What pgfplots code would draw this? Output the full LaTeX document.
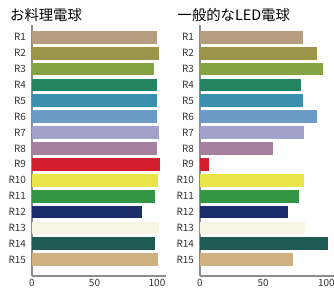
\documentclass[border=0pt]{standalone}
\usepackage{pgfplots}
\pgfplotsset{compat=1.18}
\usepackage{fontspec}
\setmainfont{Noto Sans CJK JP}
\definecolor{cA}{HTML}{B59E80}
\definecolor{cB}{HTML}{9C9449}
\definecolor{cC}{HTML}{86A344}
\definecolor{cD}{HTML}{238562}
\definecolor{cE}{HTML}{3A90AD}
\definecolor{cF}{HTML}{6C9BC6}
\definecolor{cG}{HTML}{A0A2CA}
\definecolor{cH}{HTML}{A67E9E}
\definecolor{cI}{HTML}{D41E30}
\definecolor{cJ}{HTML}{E7E549}
\definecolor{cK}{HTML}{339644}
\definecolor{cL}{HTML}{1B2D6A}
\definecolor{cM}{HTML}{F9F3E4}
\definecolor{cN}{HTML}{1E5B52}
\definecolor{cO}{HTML}{CFB080}
\pgfplotsset{mybars/.style={
  xbar, bar shift=0pt, bar width=12.7bp,
  scale only axis, height=251bp,
  xmin=0, ymin=0.226, ymax=16.026, y dir=reverse,
  axis x line*=bottom, axis y line*=left,
  axis line style={color=black!45, line width=1.6bp},
  xtick={0,50,100}, ytick={1,...,15},
  yticklabels={R1,R2,R3,R4,R5,R6,R7,R8,R9,R10,R11,R12,R13,R14,R15},
  major tick length=0pt,
  tick label style={font=\fontsize{10}{10}\selectfont, text=black!80},
  yticklabel style={xshift=-2.5bp},
  /pgf/number format/assume math mode=true,
  cycle list={{fill=cA},{fill=cB},{fill=cC},{fill=cD},{fill=cE},{fill=cF},{fill=cG},{fill=cH},{fill=cI},{fill=cJ},{fill=cK},{fill=cL},{fill=cM},{fill=cN},{fill=cO}},
  every axis plot/.append style={draw=none},
  clip=false,
}}
\begin{document}
\begin{tikzpicture}[x=1bp,y=1bp]
\useasboundingbox (0,0) rectangle (334,289);
\node[anchor=base west, inner sep=0, font=\fontsize{14.4}{14.4}\selectfont] at (10,268.7) {お料理電球};
\node[anchor=base west, inner sep=0, font=\fontsize{14.4}{14.4}\selectfont] at (177.5,268.7) {一般的なLED電球};
\begin{axis}[mybars, at={(32bp,13bp)}, anchor=south west, width=133.75bp, xmax=107]
\addplot coordinates {(100,1)};
\addplot coordinates {(101.4,2)};
\addplot coordinates {(97.6,3)};
\addplot coordinates {(100,4)};
\addplot coordinates {(100,5)};
\addplot coordinates {(100,6)};
\addplot coordinates {(101.2,7)};
\addplot coordinates {(100,8)};
\addplot coordinates {(102,9)};
\addplot coordinates {(100.5,10)};
\addplot coordinates {(98.4,11)};
\addplot coordinates {(88,12)};
\addplot coordinates {(101.4,13)};
\addplot coordinates {(98.4,14)};
\addplot coordinates {(100.5,15)};
\end{axis}
\begin{axis}[mybars, at={(200bp,13bp)}, anchor=south west, width=134bp, xmax=106]
\addplot coordinates {(81.6,1)};
\addplot coordinates {(92.6,2)};
\addplot coordinates {(97.4,3)};
\addplot coordinates {(80,4)};
\addplot coordinates {(81.6,5)};
\addplot coordinates {(92.5,6)};
\addplot coordinates {(82.4,7)};
\addplot coordinates {(57.9,8)};
\addplot coordinates {(6.9,9)};
\addplot coordinates {(82.4,10)};
\addplot coordinates {(78.5,11)};
\addplot coordinates {(69.7,12)};
\addplot coordinates {(83.2,13)};
\addplot coordinates {(101,14)};
\addplot coordinates {(73.3,15)};
\end{axis}
\end{tikzpicture}
\end{document}
